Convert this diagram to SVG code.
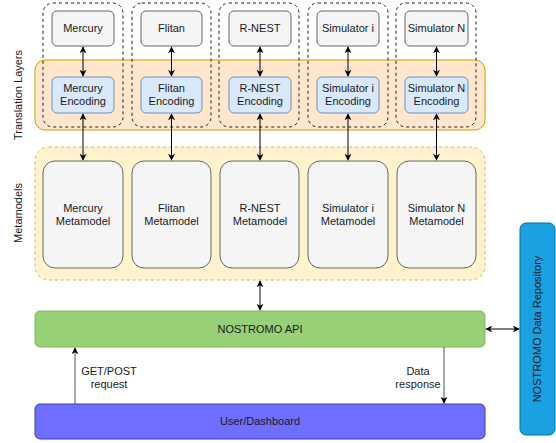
<svg xmlns="http://www.w3.org/2000/svg" width="556" height="443" viewBox="0 0 556 443">
<style>
text{font-family:"Liberation Sans",Arial,sans-serif;font-size:11px;fill:#1a1a1a;text-anchor:middle}
.grp{fill:none;stroke:#222;stroke-width:1;stroke-dasharray:3 3}
.sim{fill:#f5f5f5;stroke:#666;stroke-width:1}
.enc{fill:#dae8fc;stroke:#6c8ebf;stroke-width:1}
.meta{fill:#f5f5f5;stroke:#666;stroke-width:1}
.c{stroke:#000;stroke-width:1;fill:none}
.cg{stroke:#555;stroke-width:1;fill:none}
</style>
<defs>
<marker id="ah" viewBox="0 0 10 10" refX="9" refY="5" markerWidth="7" markerHeight="7" orient="auto-start-reverse" markerUnits="userSpaceOnUse">
<path d="M0,0 L10,5 L0,10 L3,5 Z" fill="#000"/>
</marker>
</defs>
<g id="band-translation">
<rect x="35" y="60" width="450" height="70" rx="10" fill="#ffe6cc" stroke="#d79b00"/>
<text transform="translate(22,95) rotate(-90)">Translation Layers</text>
</g>
<g id="band-metamodels">
<rect x="35" y="147" width="450" height="133" rx="14" fill="#fff2cc" stroke="#d6b656" stroke-dasharray="3 3"/>
<text transform="translate(22,213) rotate(-90)">Metamodels</text>
</g>
<g id="group-mercury"><rect class="grp" x="43" y="3" width="80" height="124" rx="10"/></g>
<g id="group-flitan"><rect class="grp" x="132" y="3" width="79" height="124" rx="10"/></g>
<g id="group-rnest"><rect class="grp" x="219" y="3" width="80" height="124" rx="10"/></g>
<g id="group-simi"><rect class="grp" x="308" y="3" width="80" height="124" rx="10"/></g>
<g id="group-simn"><rect class="grp" x="396" y="3" width="80" height="124" rx="10"/></g>

<g id="mercury"><rect class="sim" x="52" y="11" width="62" height="35" rx="5"/><text x="83" y="32">Mercury</text></g>
<g id="flitan"><rect class="sim" x="141" y="11" width="61" height="35" rx="5"/><text x="171.5" y="32">Flitan</text></g>
<g id="rnest"><rect class="sim" x="229" y="11" width="62" height="35" rx="5"/><text x="260" y="32">R-NEST</text></g>
<g id="simi"><rect class="sim" x="317" y="11" width="62" height="35" rx="5"/><text x="348" y="32">Simulator i</text></g>
<g id="simn"><rect class="sim" x="405" y="11" width="63" height="35" rx="5"/><text x="436.5" y="32">Simulator N</text></g>

<g id="mercury-enc"><rect class="enc" x="52" y="77" width="62" height="36" rx="5"/><text x="83" y="92">Mercury</text><text x="83" y="105">Encoding</text></g>
<g id="flitan-enc"><rect class="enc" x="141" y="77" width="61" height="36" rx="5"/><text x="171.5" y="92">Flitan</text><text x="171.5" y="105">Encoding</text></g>
<g id="rnest-enc"><rect class="enc" x="229" y="77" width="62" height="36" rx="5"/><text x="260" y="92">R-NEST</text><text x="260" y="105">Encoding</text></g>
<g id="simi-enc"><rect class="enc" x="317" y="77" width="62" height="36" rx="5"/><text x="348" y="92">Simulator i</text><text x="348" y="105">Encoding</text></g>
<g id="simn-enc"><rect class="enc" x="405" y="77" width="63" height="36" rx="5"/><text x="436.5" y="92">Simulator N</text><text x="436.5" y="105">Encoding</text></g>

<g id="mercury-meta"><rect class="meta" x="43" y="161" width="80" height="107" rx="12"/><text x="83" y="212">Mercury</text><text x="83" y="225">Metamodel</text></g>
<g id="flitan-meta"><rect class="meta" x="132" y="161" width="79" height="107" rx="12"/><text x="171.5" y="212">Flitan</text><text x="171.5" y="225">Metamodel</text></g>
<g id="rnest-meta"><rect class="meta" x="220" y="161" width="79" height="107" rx="12"/><text x="260" y="212">R-NEST</text><text x="260" y="225">Metamodel</text></g>
<g id="simi-meta"><rect class="meta" x="308" y="161" width="80" height="107" rx="12"/><text x="348" y="212">Simulator i</text><text x="348" y="225">Metamodel</text></g>
<g id="simn-meta"><rect class="meta" x="397" y="161" width="79" height="107" rx="12"/><text x="436.5" y="212">Simulator N</text><text x="436.5" y="225">Metamodel</text></g>

<g id="api"><rect x="35" y="311" width="450" height="36" rx="5" fill="#97d077" stroke="#82b366"/><text x="260" y="333">NOSTROMO API</text></g>
<g id="dashboard"><rect x="35" y="404" width="450" height="35" rx="5" fill="#6f6fff" stroke="#3b3bb3"/><text x="260" y="425">User/Dashboard</text></g>
<g id="repository"><rect x="520" y="223" width="35" height="212" rx="6" fill="#1ba1e2" stroke="#006eaf"/><text transform="translate(541,329) rotate(-90)">NOSTROMO Data Repository</text></g>

<g id="connectors">
<line class="c" x1="83" y1="47" x2="83" y2="76" marker-start="url(#ah)" marker-end="url(#ah)"/>
<line class="c" x1="171.5" y1="47" x2="171.5" y2="76" marker-start="url(#ah)" marker-end="url(#ah)"/>
<line class="c" x1="260" y1="47" x2="260" y2="76" marker-start="url(#ah)" marker-end="url(#ah)"/>
<line class="c" x1="348" y1="47" x2="348" y2="76" marker-start="url(#ah)" marker-end="url(#ah)"/>
<line class="c" x1="436.5" y1="47" x2="436.5" y2="76" marker-start="url(#ah)" marker-end="url(#ah)"/>
<line class="c" x1="83" y1="114" x2="83" y2="160" marker-start="url(#ah)" marker-end="url(#ah)"/>
<line class="c" x1="171.5" y1="114" x2="171.5" y2="160" marker-start="url(#ah)" marker-end="url(#ah)"/>
<line class="c" x1="260" y1="114" x2="260" y2="160" marker-start="url(#ah)" marker-end="url(#ah)"/>
<line class="c" x1="348" y1="114" x2="348" y2="160" marker-start="url(#ah)" marker-end="url(#ah)"/>
<line class="c" x1="436.5" y1="114" x2="436.5" y2="160" marker-start="url(#ah)" marker-end="url(#ah)"/>
<line class="c" x1="260" y1="281" x2="260" y2="310" marker-start="url(#ah)" marker-end="url(#ah)"/>
<line class="cg" x1="75" y1="404" x2="75" y2="348" marker-end="url(#ah)"/>
<text x="109" y="375">GET/POST</text>
<text x="109" y="388">request</text>
<line class="cg" x1="444" y1="347" x2="444" y2="403" marker-end="url(#ah)"/>
<text x="418" y="375">Data</text>
<text x="418" y="388">response</text>
<line class="c" x1="486" y1="329" x2="519" y2="329" marker-start="url(#ah)" marker-end="url(#ah)"/>
</g>
</svg>
